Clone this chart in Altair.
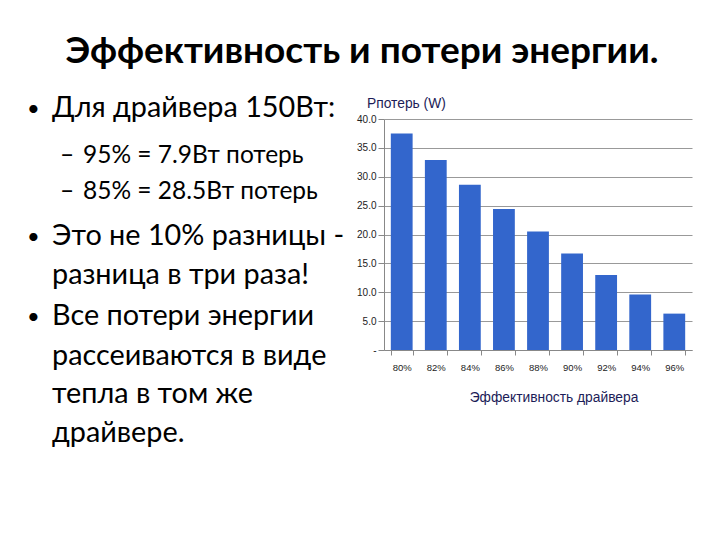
import altair as alt
import pandas as pd

# chart data
efficiency = ["80%", "82%", "84%", "86%", "88%", "90%", "92%", "94%", "96%"]
losses = [37.5, 32.9, 28.6, 24.4, 20.5, 16.7, 13.0, 9.6, 6.3]
y_ticks = [0, 5, 10, 15, 20, 25, 30, 35, 40]

slide_title = "Эффективность и потери энергии."
bullet_1 = "Для драйвера 150Вт:"
sub_lines = ["95% = 7.9Вт потерь", "85% = 28.5Вт потерь"]
bullet_2 = ["Это не 10% разницы -", "разница в три раза!"]
bullet_3 = ["Все потери энергии", "рассеиваются в виде", "тепла в том же", "драйвере."]
y_title = "Рпотерь (W)"
x_title = "Эффективность драйвера"

df = pd.DataFrame({"eff": efficiency, "loss": losses})

SLIDE_FONT = "Lato"
AXIS_FONT = "Liberation Sans"
NAVY = "#1c1c58"


def label(line, x, y, size, weight="normal", align="left", color="black", font=SLIDE_FONT):
    return alt.Chart(pd.DataFrame({"t": [line]})).mark_text(
        align=align, baseline="alphabetic", fontSize=size,
        fontWeight=weight, font=font, color=color
    ).encode(x=alt.value(x), y=alt.value(y), text="t:N")


bars = alt.Chart(df).mark_bar(color="#3366cc").encode(
    x=alt.X("eff:N", sort=efficiency, title=None,
            scale=alt.Scale(paddingInner=0.36, paddingOuter=0.2),
            axis=alt.Axis(labelAngle=0, tickBand="extent", tickSize=5,
                          labelPadding=7, labelFontSize=9.5, labelFont=AXIS_FONT,
                          labelColor="#222", domainColor="#888", tickColor="#888",
                          grid=False)),
    y=alt.Y("loss:Q", title=None,
            scale=alt.Scale(domain=[0, 40], nice=False),
            axis=alt.Axis(values=y_ticks, tickSize=6, labelPadding=2,
                          labelFontSize=10, labelFont=AXIS_FONT, labelColor="#222",
                          labelExpr="datum.value == 0 ? '-' : format(datum.value, '.1f')",
                          domainColor="#888", tickColor="#888",
                          grid=True, gridColor="#999")),
)

# slide text, positions relative to the plot area's top-left corner
MAIN = 28.8
SUB = 24.5
texts = [
    label(slide_title, -22, -56, 37, weight="bold", align="center"),
    label("•", -357, -3, 22),
    label(bullet_1, -332, -2, MAIN),
    label("–", -324, 44, SUB),
    label(sub_lines[0], -301, 44, SUB),
    label("–", -324, 80, SUB),
    label(sub_lines[1], -301, 80, SUB),
    label("•", -357, 125, 22),
    label(bullet_2[0], -332, 126, MAIN),
    label(bullet_2[1], -332, 165, MAIN),
    label("•", -357, 205, 22),
    label(bullet_3[0], -332, 206, MAIN),
    label(bullet_3[1], -332, 246, MAIN),
    label(bullet_3[2], -332, 284, MAIN),
    label(bullet_3[3], -332, 323, MAIN),
    label(y_title, -17, -11, 13.8, color=NAVY, font=AXIS_FONT),
    label(x_title, 170, 283, 13.8, align="center", color=NAVY, font=AXIS_FONT),
]

chart = alt.layer(bars, *texts).properties(
    width=308,
    height=231,
    autosize=alt.AutoSizeParams(type="none"),
    padding={"left": 376, "top": 111, "right": 20, "bottom": 180},
    background="white",
).configure_view(strokeWidth=0)

chart.save("out.html", embed_options={"renderer": "svg", "actions": False})
